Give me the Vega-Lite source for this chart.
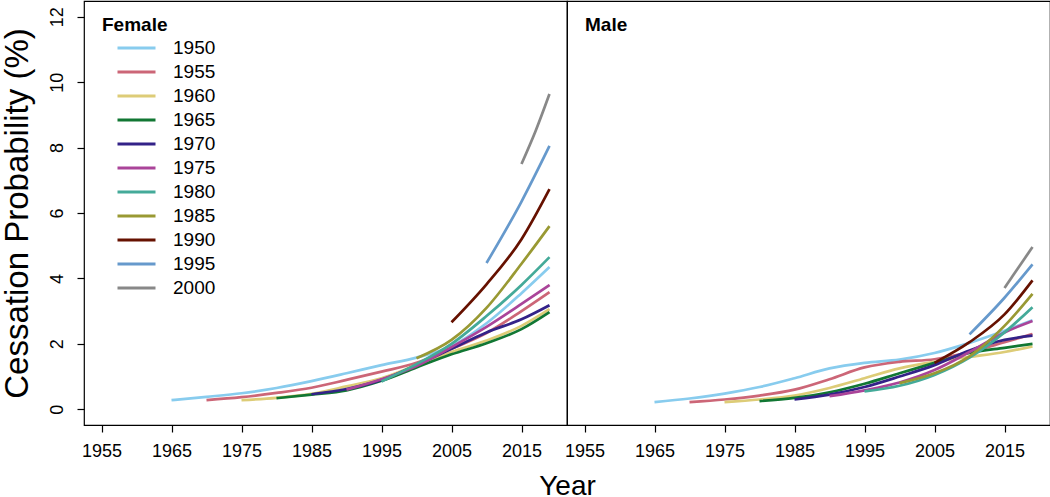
{
  "$schema": "https://vega.github.io/schema/vega-lite/v6.json",
  "padding": 0,
  "background": "white",
  "bounds": "flush",
  "spacing": 0,
  "config": {
    "font": "Liberation Sans",
    "view": {"stroke": "black", "strokeWidth": 1.2},
    "axis": {"labelFont": "Liberation Sans", "titleFont": "Liberation Sans", "labelFontSize": 18, "labelColor": "black", "tickColor": "black", "tickWidth": 1.2, "domain": false, "grid": false, "tickSize": 7, "titleColor": "black", "titleFontWeight": "normal"},
    "title": {"font": "Liberation Sans", "color": "black"}
  },
  "data": {"values": [
    {"sex":"Female","cohort":"1950","year":1965,"p":0.28},{"sex":"Female","cohort":"1950","year":1970,"p":0.38},{"sex":"Female","cohort":"1950","year":1975,"p":0.49},{"sex":"Female","cohort":"1950","year":1980,"p":0.65},{"sex":"Female","cohort":"1950","year":1985,"p":0.86},{"sex":"Female","cohort":"1950","year":1990,"p":1.1},{"sex":"Female","cohort":"1950","year":1995,"p":1.35},{"sex":"Female","cohort":"1950","year":2000,"p":1.58},{"sex":"Female","cohort":"1950","year":2005,"p":1.93},{"sex":"Female","cohort":"1950","year":2010,"p":2.63},{"sex":"Female","cohort":"1950","year":2015,"p":3.55},{"sex":"Female","cohort":"1950","year":2019,"p":4.35},
    {"sex":"Female","cohort":"1955","year":1970,"p":0.28},{"sex":"Female","cohort":"1955","year":1975,"p":0.37},{"sex":"Female","cohort":"1955","year":1980,"p":0.5},{"sex":"Female","cohort":"1955","year":1985,"p":0.66},{"sex":"Female","cohort":"1955","year":1990,"p":0.9},{"sex":"Female","cohort":"1955","year":1995,"p":1.15},{"sex":"Female","cohort":"1955","year":2000,"p":1.42},{"sex":"Female","cohort":"1955","year":2005,"p":1.85},{"sex":"Female","cohort":"1955","year":2010,"p":2.33},{"sex":"Female","cohort":"1955","year":2015,"p":3.0},{"sex":"Female","cohort":"1955","year":2019,"p":3.58},
    {"sex":"Female","cohort":"1960","year":1975,"p":0.28},{"sex":"Female","cohort":"1960","year":1980,"p":0.35},{"sex":"Female","cohort":"1960","year":1985,"p":0.47},{"sex":"Female","cohort":"1960","year":1990,"p":0.7},{"sex":"Female","cohort":"1960","year":1995,"p":0.95},{"sex":"Female","cohort":"1960","year":2000,"p":1.35},{"sex":"Female","cohort":"1960","year":2005,"p":1.75},{"sex":"Female","cohort":"1960","year":2010,"p":2.1},{"sex":"Female","cohort":"1960","year":2015,"p":2.55},{"sex":"Female","cohort":"1960","year":2019,"p":3.06},
    {"sex":"Female","cohort":"1965","year":1980,"p":0.34},{"sex":"Female","cohort":"1965","year":1985,"p":0.45},{"sex":"Female","cohort":"1965","year":1990,"p":0.58},{"sex":"Female","cohort":"1965","year":1995,"p":0.87},{"sex":"Female","cohort":"1965","year":2000,"p":1.28},{"sex":"Female","cohort":"1965","year":2005,"p":1.68},{"sex":"Female","cohort":"1965","year":2010,"p":2.02},{"sex":"Female","cohort":"1965","year":2015,"p":2.45},{"sex":"Female","cohort":"1965","year":2019,"p":2.97},
    {"sex":"Female","cohort":"1970","year":1985,"p":0.46},{"sex":"Female","cohort":"1970","year":1990,"p":0.62},{"sex":"Female","cohort":"1970","year":1995,"p":0.9},{"sex":"Female","cohort":"1970","year":2000,"p":1.35},{"sex":"Female","cohort":"1970","year":2005,"p":1.85},{"sex":"Female","cohort":"1970","year":2010,"p":2.35},{"sex":"Female","cohort":"1970","year":2015,"p":2.75},{"sex":"Female","cohort":"1970","year":2019,"p":3.18},
    {"sex":"Female","cohort":"1975","year":1990,"p":0.6},{"sex":"Female","cohort":"1975","year":1995,"p":0.92},{"sex":"Female","cohort":"1975","year":2000,"p":1.32},{"sex":"Female","cohort":"1975","year":2005,"p":1.9},{"sex":"Female","cohort":"1975","year":2010,"p":2.52},{"sex":"Female","cohort":"1975","year":2015,"p":3.22},{"sex":"Female","cohort":"1975","year":2019,"p":3.8},
    {"sex":"Female","cohort":"1980","year":1995,"p":0.85},{"sex":"Female","cohort":"1980","year":2000,"p":1.38},{"sex":"Female","cohort":"1980","year":2005,"p":2.0},{"sex":"Female","cohort":"1980","year":2010,"p":2.85},{"sex":"Female","cohort":"1980","year":2015,"p":3.8},{"sex":"Female","cohort":"1980","year":2019,"p":4.65},
    {"sex":"Female","cohort":"1985","year":2000,"p":1.56},{"sex":"Female","cohort":"1985","year":2005,"p":2.12},{"sex":"Female","cohort":"1985","year":2010,"p":3.1},{"sex":"Female","cohort":"1985","year":2015,"p":4.45},{"sex":"Female","cohort":"1985","year":2019,"p":5.6},
    {"sex":"Female","cohort":"1990","year":2005,"p":2.66},{"sex":"Female","cohort":"1990","year":2010,"p":3.82},{"sex":"Female","cohort":"1990","year":2015,"p":5.2},{"sex":"Female","cohort":"1990","year":2019,"p":6.73},
    {"sex":"Female","cohort":"1995","year":2010,"p":4.47},{"sex":"Female","cohort":"1995","year":2015,"p":6.35},{"sex":"Female","cohort":"1995","year":2019,"p":8.05},
    {"sex":"Female","cohort":"2000","year":2015,"p":7.5},{"sex":"Female","cohort":"2000","year":2017,"p":8.5},{"sex":"Female","cohort":"2000","year":2019,"p":9.64},
    {"sex":"Male","cohort":"1950","year":1965,"p":0.22},{"sex":"Male","cohort":"1950","year":1970,"p":0.33},{"sex":"Male","cohort":"1950","year":1975,"p":0.48},{"sex":"Male","cohort":"1950","year":1980,"p":0.68},{"sex":"Male","cohort":"1950","year":1985,"p":0.95},{"sex":"Male","cohort":"1950","year":1990,"p":1.25},{"sex":"Male","cohort":"1950","year":1995,"p":1.42},{"sex":"Male","cohort":"1950","year":2000,"p":1.52},{"sex":"Male","cohort":"1950","year":2005,"p":1.72},{"sex":"Male","cohort":"1950","year":2010,"p":2.03},{"sex":"Male","cohort":"1950","year":2015,"p":2.4},{"sex":"Male","cohort":"1950","year":2019,"p":2.72},
    {"sex":"Male","cohort":"1955","year":1970,"p":0.22},{"sex":"Male","cohort":"1955","year":1975,"p":0.3},{"sex":"Male","cohort":"1955","year":1980,"p":0.42},{"sex":"Male","cohort":"1955","year":1985,"p":0.6},{"sex":"Male","cohort":"1955","year":1990,"p":0.92},{"sex":"Male","cohort":"1955","year":1995,"p":1.28},{"sex":"Male","cohort":"1955","year":2000,"p":1.45},{"sex":"Male","cohort":"1955","year":2005,"p":1.53},{"sex":"Male","cohort":"1955","year":2010,"p":1.75},{"sex":"Male","cohort":"1955","year":2015,"p":2.05},{"sex":"Male","cohort":"1955","year":2019,"p":2.3},
    {"sex":"Male","cohort":"1960","year":1975,"p":0.22},{"sex":"Male","cohort":"1960","year":1980,"p":0.3},{"sex":"Male","cohort":"1960","year":1985,"p":0.42},{"sex":"Male","cohort":"1960","year":1990,"p":0.65},{"sex":"Male","cohort":"1960","year":1995,"p":0.95},{"sex":"Male","cohort":"1960","year":2000,"p":1.25},{"sex":"Male","cohort":"1960","year":2005,"p":1.45},{"sex":"Male","cohort":"1960","year":2010,"p":1.6},{"sex":"Male","cohort":"1960","year":2015,"p":1.75},{"sex":"Male","cohort":"1960","year":2019,"p":1.92},
    {"sex":"Male","cohort":"1965","year":1980,"p":0.25},{"sex":"Male","cohort":"1965","year":1985,"p":0.35},{"sex":"Male","cohort":"1965","year":1990,"p":0.52},{"sex":"Male","cohort":"1965","year":1995,"p":0.78},{"sex":"Male","cohort":"1965","year":2000,"p":1.1},{"sex":"Male","cohort":"1965","year":2005,"p":1.42},{"sex":"Male","cohort":"1965","year":2010,"p":1.72},{"sex":"Male","cohort":"1965","year":2015,"p":1.88},{"sex":"Male","cohort":"1965","year":2019,"p":2.0},
    {"sex":"Male","cohort":"1970","year":1985,"p":0.3},{"sex":"Male","cohort":"1970","year":1990,"p":0.45},{"sex":"Male","cohort":"1970","year":1995,"p":0.68},{"sex":"Male","cohort":"1970","year":2000,"p":1.0},{"sex":"Male","cohort":"1970","year":2005,"p":1.35},{"sex":"Male","cohort":"1970","year":2010,"p":1.8},{"sex":"Male","cohort":"1970","year":2015,"p":2.12},{"sex":"Male","cohort":"1970","year":2019,"p":2.25},
    {"sex":"Male","cohort":"1975","year":1990,"p":0.4},{"sex":"Male","cohort":"1975","year":1995,"p":0.58},{"sex":"Male","cohort":"1975","year":2000,"p":0.82},{"sex":"Male","cohort":"1975","year":2005,"p":1.2},{"sex":"Male","cohort":"1975","year":2010,"p":1.75},{"sex":"Male","cohort":"1975","year":2015,"p":2.35},{"sex":"Male","cohort":"1975","year":2019,"p":2.7},
    {"sex":"Male","cohort":"1980","year":1995,"p":0.55},{"sex":"Male","cohort":"1980","year":2000,"p":0.72},{"sex":"Male","cohort":"1980","year":2005,"p":1.05},{"sex":"Male","cohort":"1980","year":2010,"p":1.58},{"sex":"Male","cohort":"1980","year":2015,"p":2.35},{"sex":"Male","cohort":"1980","year":2019,"p":3.12},
    {"sex":"Male","cohort":"1985","year":2000,"p":0.8},{"sex":"Male","cohort":"1985","year":2005,"p":1.1},{"sex":"Male","cohort":"1985","year":2010,"p":1.62},{"sex":"Male","cohort":"1985","year":2015,"p":2.55},{"sex":"Male","cohort":"1985","year":2019,"p":3.53},
    {"sex":"Male","cohort":"1990","year":2005,"p":1.42},{"sex":"Male","cohort":"1990","year":2010,"p":2.05},{"sex":"Male","cohort":"1990","year":2015,"p":2.9},{"sex":"Male","cohort":"1990","year":2019,"p":3.94},
    {"sex":"Male","cohort":"1995","year":2010,"p":2.29},{"sex":"Male","cohort":"1995","year":2015,"p":3.41},{"sex":"Male","cohort":"1995","year":2019,"p":4.43},
    {"sex":"Male","cohort":"2000","year":2015,"p":3.71},{"sex":"Male","cohort":"2000","year":2019,"p":4.96}
  ]},
  "hconcat": [
    {
      "width": 483,
      "height": 424,
      "title": {"text": "Female", "anchor": "start", "frame": "group", "fontSize": 19, "fontWeight": "bold", "baseline": "alphabetic", "offset": -49, "dx": 18},
      "transform": [{"filter": "datum.sex === 'Female'"}],
      "mark": {"type": "line", "strokeWidth": 2.7, "interpolate": "monotone"},
      "encoding": {
        "x": {"field": "year", "type": "quantitative", "scale": {"domain": [1952.5, 2021.5], "nice": false, "zero": false},
              "axis": {"values": [1955, 1965, 1975, 1985, 1995, 2005, 2015], "format": "d", "labelPadding": 10, "title": "Year", "titleX": 483, "titleY": 69, "titleAlign": "center", "titleBaseline": "alphabetic", "titleFontSize": 28}},
        "y": {"field": "p", "type": "quantitative", "scale": {"domain": [-0.48, 12.48], "nice": false, "zero": false},
              "axis": {"values": [0, 2, 4, 6, 8, 10, 12], "labelAngle": 270, "labelAlign": "center", "labelBaseline": "middle", "labelPadding": 20, "title": "Cessation Probability (%)", "titleFontSize": 33, "titlePadding": 14}},
        "color": {"field": "cohort", "type": "nominal",
                  "scale": {"domain": ["1950","1955","1960","1965","1970","1975","1980","1985","1990","1995","2000"],
                            "range": ["#88CCEE","#CC6677","#DDCC77","#117733","#332288","#AA4499","#44AA99","#999933","#661100","#6699CC","#888888"]},
                  "legend": {"orient": "none", "legendX": 32, "legendY": 36, "title": null, "symbolType": "M-1,0H3", "symbolSize": 361, "symbolStrokeWidth": 3, "labelFontSize": 19, "labelFont": "Liberation Sans", "labelColor": "black", "labelOffset": 35, "rowPadding": 3, "padding": 0}}
      }
    },
    {
      "width": 483,
      "height": 424,
      "title": {"text": "Male", "anchor": "start", "frame": "group", "fontSize": 19, "fontWeight": "bold", "baseline": "alphabetic", "offset": -49, "dx": 18},
      "transform": [{"filter": "datum.sex === 'Male'"}],
      "mark": {"type": "line", "strokeWidth": 2.7, "interpolate": "monotone"},
      "encoding": {
        "x": {"field": "year", "type": "quantitative", "scale": {"domain": [1952.5, 2021.5], "nice": false, "zero": false},
              "axis": {"values": [1955, 1965, 1975, 1985, 1995, 2005, 2015], "format": "d", "labelPadding": 10, "title": null}},
        "y": {"field": "p", "type": "quantitative", "scale": {"domain": [-0.48, 12.48], "nice": false, "zero": false}, "axis": null},
        "color": {"field": "cohort", "type": "nominal"}
      }
    }
  ],
  "resolve": {"scale": {"y": "independent", "x": "independent"}}
}
